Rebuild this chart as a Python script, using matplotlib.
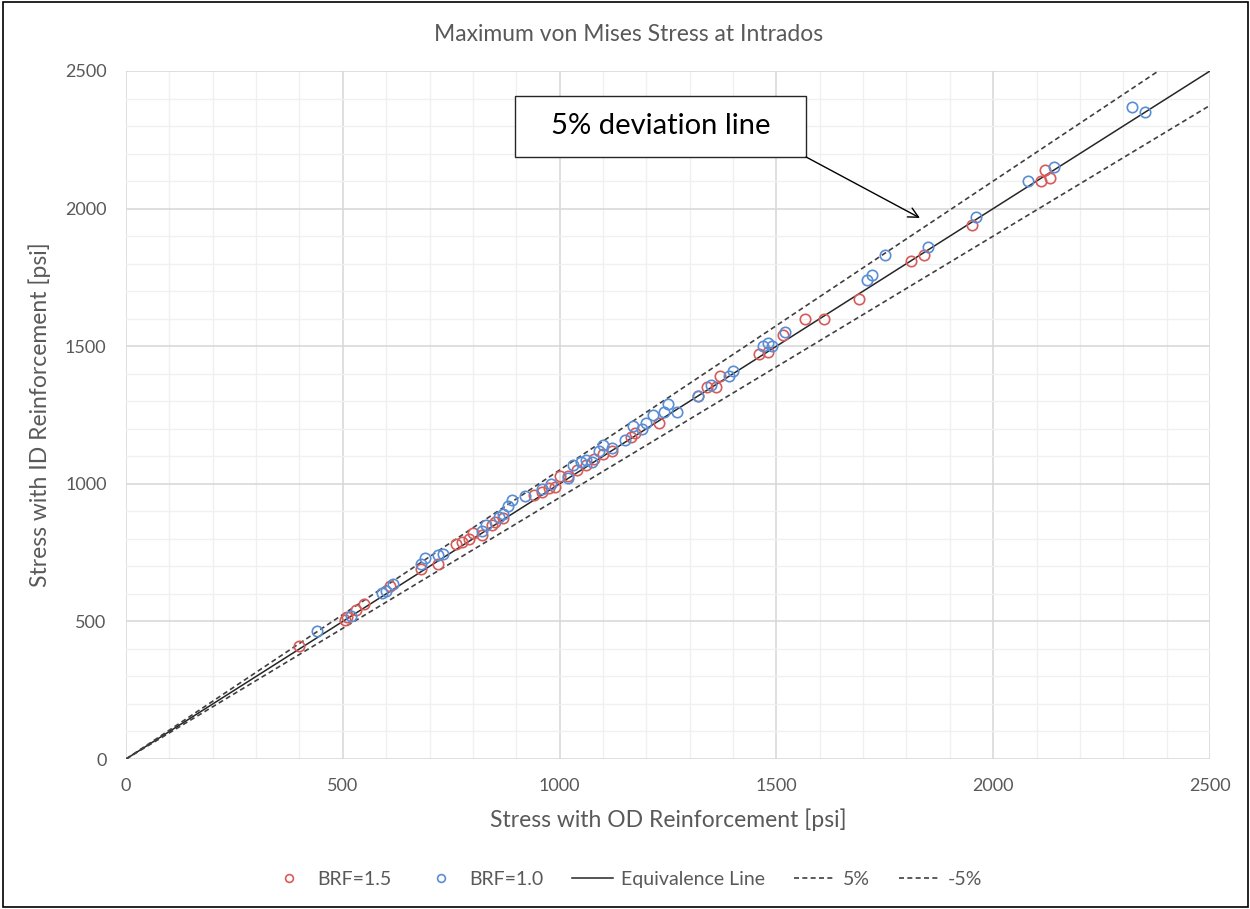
import matplotlib
matplotlib.use("Agg")
import matplotlib.pyplot as plt
import matplotlib.patches as mpatches
import numpy as np

plt.rcParams['font.family'] = ['Lato', 'DejaVu Sans']

# BRF=1.5 : (OD stress, ID stress)
brf15_od = [400, 505, 510, 530, 550, 610, 680, 720, 760, 775, 790, 800, 820, 845, 850,
            870, 940, 960, 975, 990, 1000, 1020, 1040, 1060, 1080, 1100, 1120, 1165,
            1175, 1230, 1320, 1340, 1360, 1370, 1460, 1480, 1515, 1565, 1610, 1690,
            1810, 1840, 1950, 2110, 2120, 2130]
brf15_id = [410, 505, 515, 540, 565, 630, 690, 710, 780, 790, 800, 820, 815, 850, 860,
            875, 960, 970, 985, 990, 1030, 1030, 1050, 1070, 1090, 1110, 1120, 1170,
            1185, 1220, 1320, 1350, 1350, 1390, 1470, 1480, 1540, 1600, 1600, 1670,
            1810, 1830, 1940, 2100, 2140, 2110]

# BRF=1.0
brf10_od = [440, 520, 590, 600, 615, 680, 690, 720, 730, 820, 830, 860, 870, 880, 890,
            920, 960, 980, 1020, 1030, 1050, 1060, 1075, 1090, 1100, 1120, 1150, 1170,
            1190, 1200, 1215, 1240, 1250, 1270, 1320, 1350, 1390, 1400, 1470, 1480,
            1490, 1520, 1710, 1720, 1750, 1850, 1960, 2080, 2140, 2320, 2350]
brf10_id = [465, 520, 605, 610, 635, 710, 730, 740, 745, 830, 850, 880, 890, 920, 940,
            955, 980, 1000, 1020, 1070, 1080, 1085, 1080, 1120, 1140, 1130, 1160, 1210,
            1200, 1220, 1250, 1260, 1290, 1260, 1320, 1360, 1390, 1410, 1500, 1510,
            1500, 1550, 1740, 1760, 1830, 1860, 1970, 2100, 2150, 2370, 2350]

line_x = [0, 2500]
deviation = 0.05

text_col = '#595959'
red = '#d65c5c'
blue = '#5a8dd4'

fig = plt.figure(figsize=(12.5, 9.09), dpi=100)
ax = fig.add_axes([0.1008, 0.165, 0.8672, 0.7569])

lx = np.array(line_x)
ax.plot(brf15_od, brf15_id, 'o', mfc='none', mec=red, ms=7.5, mew=1.2, label='BRF=1.5', zorder=4)
ax.plot(brf10_od, brf10_id, 'o', mfc='none', mec=blue, ms=7.5, mew=1.2, label='BRF=1.0', zorder=4)
ax.plot(lx, lx, color='#262626', lw=1.1, label='Equivalence Line', zorder=3)
ax.plot(lx, lx * (1 + deviation), color='#404040', lw=1.2, ls=(0, (3, 2)), label='5%', zorder=3)
ax.plot(lx, lx * (1 - deviation), color='#404040', lw=1.2, ls=(0, (3, 2)), label='-5%', zorder=3)

ax.set_xlim(0, 2500)
ax.set_ylim(0, 2500)
ax.set_xticks(np.arange(0, 2501, 500))
ax.set_yticks(np.arange(0, 2501, 500))
ax.set_xticks(np.arange(0, 2501, 100), minor=True)
ax.set_yticks(np.arange(0, 2501, 100), minor=True)
ax.grid(which='major', color='#d9d9d9', lw=1.2)
ax.grid(which='minor', color='#f0f0f0', lw=1.0)
ax.set_axisbelow(True)
for s in ax.spines.values():
    s.set_visible(False)
ax.tick_params(which='both', length=0, labelsize=13, labelcolor=text_col)
ax.tick_params(axis='x', pad=14)
ax.tick_params(axis='y', pad=14)

ax.set_xlabel('Stress with OD Reinforcement [psi]', fontsize=16.5, color=text_col, labelpad=10)
ax.set_ylabel('Stress with ID Reinforcement [psi]', fontsize=16.5, color=text_col, labelpad=10)
# title is centred on the whole chart, not the plot area
fig.text(0.503, 0.962, 'Maximum von Mises Stress at Intrados', fontsize=16.5, color=text_col,
         ha='center', va='center')

# callout box with arrow
box = mpatches.Rectangle((0.3589, 0.875), 0.2685, 0.0887, transform=ax.transAxes,
                         facecolor='white', edgecolor='#262626', lw=1.0, zorder=5, clip_on=False)
ax.add_patch(box)
ax.text(0.3589 + 0.2685 / 2, 0.875 + 0.0887 / 2, '5% deviation line', transform=ax.transAxes,
        ha='center', va='center', fontsize=21, color='#000000', zorder=6)
ax.annotate('', xy=(1831, 1966), xycoords='data', xytext=(0.6274, 0.875), textcoords='axes fraction',
            arrowprops=dict(arrowstyle='->', color='#000000', lw=1.0, mutation_scale=18,
                            shrinkA=0, shrinkB=0), zorder=6)

fig.legend(loc='center', bbox_to_anchor=(0.5, 0.033), ncol=5, frameon=False, fontsize=14,
           labelcolor=text_col, handlelength=2.1, handletextpad=0.4, columnspacing=1.5,
           markerscale=0.75)

fig.add_artist(mpatches.Rectangle((0.002, 0.002), 0.996, 0.996, transform=fig.transFigure,
                                  fill=False, edgecolor='#000000', lw=1.2))

fig.savefig('out.png', dpi=100)
